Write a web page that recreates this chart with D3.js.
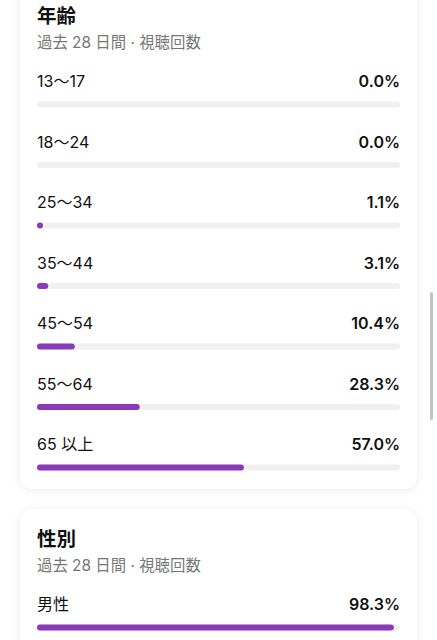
<!DOCTYPE html>
<html><head><meta charset="utf-8">
<script src="https://cdn.jsdelivr.net/npm/d3@7"></script>
<style>
html,body{margin:0;padding:0;background:#fff;overflow:hidden}
svg{display:block}
text{font-family:Inter,"Noto Sans CJK JP","Noto Sans",sans-serif}
</style></head>
<body>
<script>
const ageTitle = "年齢";
const genderTitle = "性別";
const subtitle = "過去 28 日間 · 視聴回数";
const ageLabels = ["13〜17","18〜24","25〜34","35〜44","45〜54","55〜64","65 以上"];
const ageValues = [0.0, 0.0, 1.1, 3.1, 10.4, 28.3, 57.0];
const genderLabels = ["男性"];
const genderValues = [98.3];

const W = 437, H = 640;
const svg = d3.select("body").append("svg").attr("width", W).attr("height", H);
const defs = svg.append("defs");
const f = defs.append("filter").attr("id","sh").attr("x","-10%").attr("y","-10%").attr("width","120%").attr("height","120%");
f.append("feDropShadow").attr("dx",0).attr("dy",1).attr("stdDeviation",4).attr("flood-color","#000").attr("flood-opacity",0.08);

const x = d3.scaleLinear().domain([0,100]).range([37,400]);
const barH = 6;

function card(top, height, title, labels, values) {
  const g = svg.append("g");
  g.append("rect").attr("x",20).attr("y",top).attr("width",397).attr("height",height)
    .attr("rx",14).attr("fill","#fff").attr("filter","url(#sh)");
  const t0 = top + 21; // title top
  g.append("text").attr("x",37).attr("y",t0+16).attr("font-size",19.5).attr("font-weight",700)
    .attr("fill","#111").text(title);
  g.append("text").attr("x",37).attr("y",t0+41).attr("font-size",15.4).attr("fill","#777").text(subtitle);
  const rowY = d3.scalePoint().domain(labels).range([t0+80, t0+80+60.5*(labels.length-1)]);
  const rows = g.selectAll("g.row").data(labels.map((l,i)=>({l, v: values[i]}))).join("g");
  rows.append("text").attr("x",37).attr("y",d=>rowY(d.l)).attr("font-size",16)
    .attr("fill","#111").text(d=>d.l);
  rows.append("text").attr("x",400).attr("y",d=>rowY(d.l)).attr("text-anchor","end")
    .attr("font-size",16).attr("font-weight",600).attr("fill","#111").text(d=>d.v.toFixed(1)+"%");
  rows.append("rect").attr("x",x(0)).attr("y",d=>rowY(d.l)+17.5-barH/2).attr("width",x(100)-x(0))
    .attr("height",barH).attr("rx",barH/2).attr("fill","#f0f0f0");
  rows.filter(d=>d.v>0).append("rect").attr("x",x(0)).attr("y",d=>rowY(d.l)+17.5-barH/2)
    .attr("width",d=>Math.max(barH, x(d.v)-x(0))).attr("height",barH).attr("rx",barH/2).attr("fill","#8a3ab9");
}

card(-14, 503, ageTitle, ageLabels, ageValues);
card(509, 200, genderTitle, genderLabels, genderValues);

// scrollbar
svg.append("rect").attr("x",430).attr("y",292).attr("width",3).attr("height",128).attr("rx",1.5).attr("fill","#c4c4c4");
</script>
</body></html>
